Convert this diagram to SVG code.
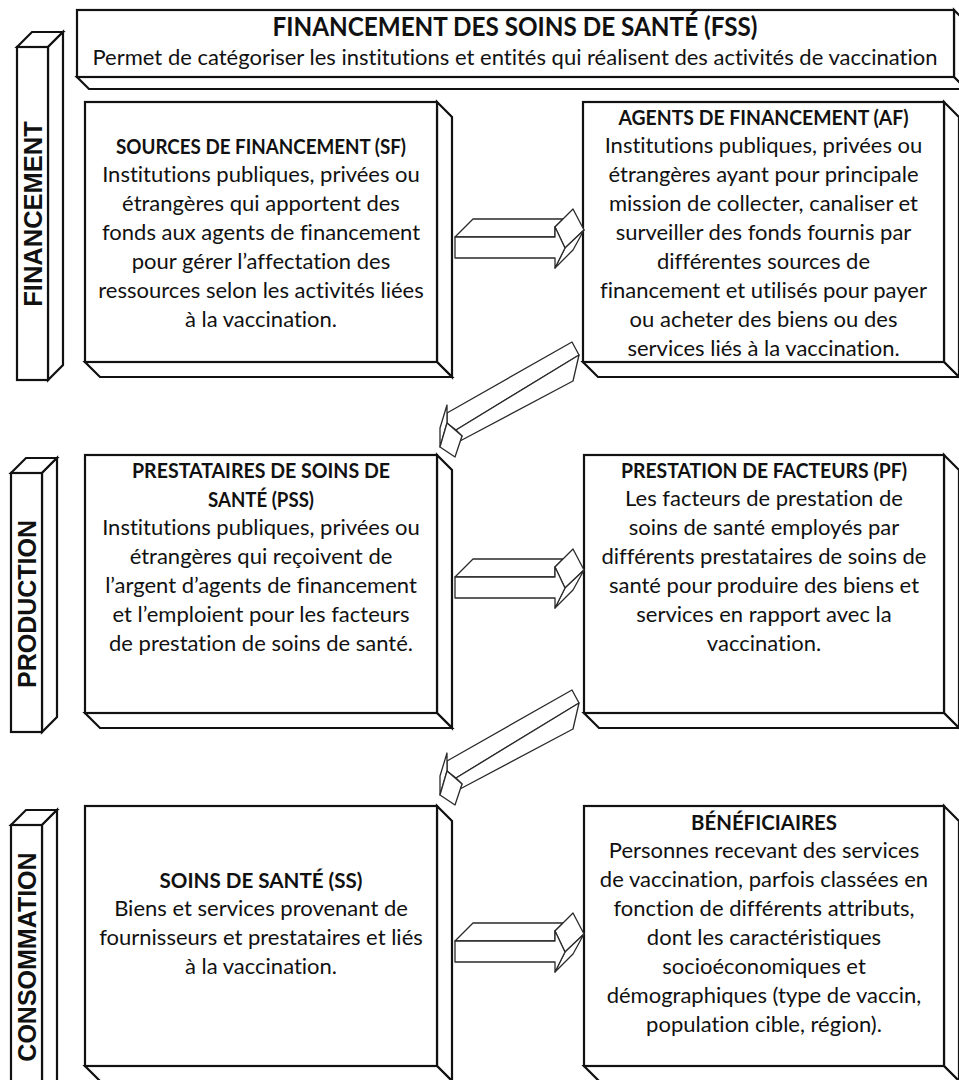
<svg xmlns="http://www.w3.org/2000/svg" width="959" height="1080" viewBox="0 0 959 1080">
<style>
.f{fill:#fff;stroke:#111;stroke-width:2.2;stroke-linejoin:miter}
.a{fill:#fff;stroke:#2a2a2a;stroke-width:1.3;stroke-linejoin:round}
.t{font-family:Lato,"Liberation Sans",sans-serif;font-size:22px;fill:#111;text-anchor:middle;font-variant-ligatures:none}
.b{font-weight:bold;font-size:21.5px}
.s{font-family:"Liberation Sans",Arial,sans-serif;font-weight:bold;font-size:25px;fill:#111;text-anchor:middle}
</style>
<rect width="959" height="1080" fill="#fff"/>
<g id="banner">
<polygon class="f" points="954,10 966,22 966,89 954,77"/>
<polygon class="f" points="77,77 954,77 966,89 89,89"/>
<rect class="f" x="77" y="10" width="877" height="67"/>
<text class="t b" x="515" y="36" style="font-size:26px" textLength="485" lengthAdjust="spacingAndGlyphs">FINANCEMENT DES SOINS DE SANTÉ (FSS)</text>
<text class="t" x="515" y="65">Permet de catégoriser les institutions et entités qui réalisent des activités de vaccination</text>
</g>
<g id="label-financement">
<polygon class="f" points="17,47 32,32 63,32 48,47"/>
<polygon class="f" points="48,47 63,32 63,365 48,380"/>
<rect class="f" x="17" y="47" width="31" height="333"/>
<text class="s" transform="translate(41.5,214) rotate(-90)" style="font-size:25.5px">FINANCEMENT</text>
</g>
<g id="label-production">
<polygon class="f" points="11,473 26,458 57,458 42,473"/>
<polygon class="f" points="42,473 57,458 57,717 42,732"/>
<rect class="f" x="11" y="473" width="31" height="259"/>
<text class="s" transform="translate(35.5,604) rotate(-90)">PRODUCTION</text>
</g>
<g id="label-consommation">
<polygon class="f" points="11,825 26,810 57,810 42,825"/>
<polygon class="f" points="42,825 57,810 57,1090 42,1105"/>
<rect class="f" x="11" y="825" width="31" height="280"/>
<text class="s" transform="translate(35.5,957) rotate(-90)">CONSOMMATION</text>
</g>
<g id="sf">
<polygon class="f" points="437,102 452,117 452,377 437,362"/>
<polygon class="f" points="85,362 437,362 452,377 100,377"/>
<rect class="f" x="85" y="102" width="352" height="260"/>
<text class="t b" x="261" y="154" textLength="290" lengthAdjust="spacingAndGlyphs">SOURCES DE FINANCEMENT (SF)</text>
<text class="t" x="261" y="182">Institutions publiques, privées ou</text>
<text class="t" x="261" y="211">étrangères qui apportent des</text>
<text class="t" x="261" y="240">fonds aux agents de financement</text>
<text class="t" x="261" y="269">pour gérer l’affectation des</text>
<text class="t" x="261" y="298">ressources selon les activités liées</text>
<text class="t" x="261" y="327">à la vaccination.</text>
</g>
<g id="af">
<polygon class="f" points="944,102 959,117 959,377 944,362"/>
<polygon class="f" points="583,362 944,362 959,377 598,377"/>
<rect class="f" x="583" y="102" width="361" height="260"/>
<text class="t b" x="763.5" y="125" textLength="290" lengthAdjust="spacingAndGlyphs">AGENTS DE FINANCEMENT (AF)</text>
<text class="t" x="763.5" y="153">Institutions publiques, privées ou</text>
<text class="t" x="763.5" y="182">étrangères ayant pour principale</text>
<text class="t" x="763.5" y="211">mission de collecter, canaliser et</text>
<text class="t" x="763.5" y="240">surveiller des fonds fournis par</text>
<text class="t" x="763.5" y="269">différentes sources de</text>
<text class="t" x="763.5" y="298">financement et utilisés pour payer</text>
<text class="t" x="763.5" y="327">ou acheter des biens ou des</text>
<text class="t" x="763.5" y="356">services liés à la vaccination.</text>
</g>
<g id="pss">
<polygon class="f" points="437,455 452,470 452,728 437,713"/>
<polygon class="f" points="85,713 437,713 452,728 100,728"/>
<rect class="f" x="85" y="455" width="352" height="258"/>
<text class="t b" x="261" y="478" textLength="258" lengthAdjust="spacingAndGlyphs">PRESTATAIRES DE SOINS DE</text>
<text class="t b" x="261" y="507" textLength="106" lengthAdjust="spacingAndGlyphs">SANTÉ (PSS)</text>
<text class="t" x="261" y="535">Institutions publiques, privées ou</text>
<text class="t" x="261" y="564">étrangères qui reçoivent de</text>
<text class="t" x="261" y="593">l’argent d’agents de financement</text>
<text class="t" x="261" y="622">et l’emploient pour les facteurs</text>
<text class="t" x="261" y="651">de prestation de soins de santé.</text>
</g>
<g id="pf">
<polygon class="f" points="944,455 959,470 959,728 944,713"/>
<polygon class="f" points="584,713 944,713 959,728 599,728"/>
<rect class="f" x="584" y="455" width="360" height="258"/>
<text class="t b" x="764" y="478" textLength="286" lengthAdjust="spacingAndGlyphs">PRESTATION DE FACTEURS (PF)</text>
<text class="t" x="764" y="506">Les facteurs de prestation de</text>
<text class="t" x="764" y="535">soins de santé employés par</text>
<text class="t" x="764" y="564">différents prestataires de soins de</text>
<text class="t" x="764" y="593">santé pour produire des biens et</text>
<text class="t" x="764" y="622">services en rapport avec la</text>
<text class="t" x="764" y="651">vaccination.</text>
</g>
<g id="ss">
<polygon class="f" points="437,806 452,821 452,1081 437,1066"/>
<polygon class="f" points="85,1066 437,1066 452,1081 100,1081"/>
<rect class="f" x="85" y="806" width="352" height="260"/>
<text class="t b" x="261" y="888" textLength="203" lengthAdjust="spacingAndGlyphs">SOINS DE SANTÉ (SS)</text>
<text class="t" x="261" y="916">Biens et services provenant de</text>
<text class="t" x="261" y="945">fournisseurs et prestataires et liés</text>
<text class="t" x="261" y="974">à la vaccination.</text>
</g>
<g id="ben">
<polygon class="f" points="944,806 959,821 959,1081 944,1066"/>
<polygon class="f" points="584,1066 944,1066 959,1081 599,1081"/>
<rect class="f" x="584" y="806" width="360" height="260"/>
<text class="t b" x="764" y="830" textLength="146" lengthAdjust="spacingAndGlyphs">BÉNÉFICIAIRES</text>
<text class="t" x="764" y="858">Personnes recevant des services</text>
<text class="t" x="764" y="887">de vaccination, parfois classées en</text>
<text class="t" x="764" y="916">fonction de différents attributs,</text>
<text class="t" x="764" y="945">dont les caractéristiques</text>
<text class="t" x="764" y="974">socioéconomiques et</text>
<text class="t" x="764" y="1003">démographiques (type de vaccin,</text>
<text class="t" x="764" y="1032">population cible, région).</text>
</g>
<defs>
<g id="harrow">
<polygon class="a" points="455,237 473,219 563,219 555,227 555,237"/>
<polygon class="a" points="555,227 573,209 584,230 565,248"/>
<polygon class="a" points="565,248 584,230 573,250 555,268"/>
<polygon class="a" points="455,237 555,237 555,227 565,248 555,268 555,258 455,258"/>
</g>
<g id="darrow">
<polygon class="a" points="572,342 579,355 456,430 447,423 447,413"/>
<polygon class="a" points="579,355 573,381 460,441 462,436 456,430"/>
<polygon class="a" points="447,405 447,423 440,447 440,428"/>
<polygon class="a" points="447,423 462,436 455,457 440,447"/>
</g>
</defs>
<g id="connectors">
<use href="#harrow"/>
<use href="#harrow" transform="translate(0,340)"/>
<use href="#harrow" transform="translate(0,704)"/>
<use href="#darrow"/>
<use href="#darrow" transform="translate(0,348)"/>
</g>
</svg>
